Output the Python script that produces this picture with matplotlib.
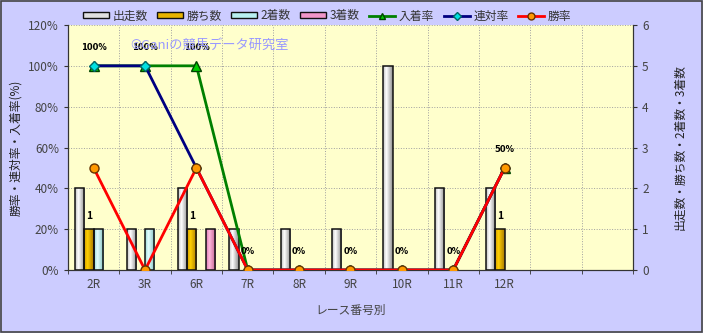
import matplotlib
matplotlib.use("Agg")
import matplotlib.pyplot as plt
import numpy as np
from matplotlib.patches import Rectangle
from matplotlib.lines import Line2D
from matplotlib.colors import LinearSegmentedColormap

plt.rcParams['font.family'] = ['Noto Sans CJK JP', 'DejaVu Sans']

categories = ['2R', '3R', '6R', '7R', '8R', '9R', '10R', '11R', '12R', '', '']
starts = [2, 1, 2, 1, 1, 1, 5, 2, 2]
wins = [1, 0, 1, 0, 0, 0, 0, 0, 1]
seconds = [1, 1, 0, 0, 0, 0, 0, 0, 0]
thirds = [0, 0, 1, 0, 0, 0, 0, 0, 0]
place_rate = [100, 100, 100, 0, 0, 0, 0, 0, 50]
quinella_rate = [100, 100, 50, 0, 0, 0, 0, 0, 50]
win_rate = [50, 0, 50, 0, 0, 0, 0, 0, 50]

fig = plt.figure(figsize=(7.03, 3.33), dpi=100)
fig.patch.set_facecolor('#CCCCFF')
fig.add_artist(Rectangle((0.001, 0.002), 0.997, 0.995, transform=fig.transFigure,
                         fill=False, edgecolor='#444444', linewidth=1.2))

ax2 = fig.add_axes([68/703, 1-270/333, (633-68)/703, (270-25)/333])
ax = ax2.twinx()
ax.set_zorder(ax2.get_zorder() + 1)
ax.patch.set_visible(False)
ax2.set_facecolor('#FFFFCC')

n = len(categories)
x = np.arange(n)
nd = len(starts)
xd = np.arange(nd)
w = 0.18
bar_specs = [
    (starts, '#F2F2F2', ['#C0C0C0', '#FFFFFF', '#8C8C8C']),
    (wins, '#E8B400', ['#D09A00', '#FFD000', '#A87800']),
    (seconds, '#B8F0F0', ['#98D8D8', '#E4FFFF', '#80C0C0']),
    (thirds, '#F096C8', ['#E07AB4', '#FFB8DC', '#C0608E']),
]
grad = np.linspace(0, 1, 64).reshape(1, -1)
for i, (vals, col, gcols) in enumerate(bar_specs):
    cmap = LinearSegmentedColormap.from_list(f'g{i}', [(0, gcols[0]), (0.35, gcols[1]), (1, gcols[2])])
    bars = ax2.bar(xd + (i - 1.5) * w, vals, width=w, color=col, edgecolor='none',
                   linewidth=0, zorder=3)
    for b in bars:
        if b.get_height() <= 0:
            continue
        bx, by = b.get_x(), b.get_y()
        im = ax2.imshow(grad, cmap=cmap, aspect='auto', zorder=3.5,
                        extent=(bx, bx + b.get_width(), by, by + b.get_height()))
        im.set_clip_path(b)
        edge = Rectangle((bx, by), b.get_width(), b.get_height(), fill=False,
                         edgecolor='#111111', linewidth=1.1, zorder=3.6)
        ax2.add_patch(edge)
for xi, v in zip(xd, wins):
    if v > 0:
        ax2.text(xi - 0.5 * w, v + 0.2, str(v), ha='center', va='bottom',
                 fontsize=7.5, fontweight='bold', zorder=4)

ax2.set_xlim(-0.5, n - 0.5)
ax2.set_ylim(0, 6)
ax2.set_yticks(range(0, 7))
ax2.set_xticks(x)
ax2.set_xticklabels(categories)
ax2.set_xticks(np.arange(-0.5, n, 1.0), minor=True)
ax2.tick_params(axis='x', which='major', length=0, pad=6, labelsize=8.5, labelcolor='#444444')
ax2.tick_params(axis='x', which='minor', length=3, direction='out', color='#333333')
ax2.grid(axis='y', which='major', linestyle=':', color='#A0A0A0', linewidth=0.7, zorder=0)
ax2.grid(axis='x', which='minor', linestyle=':', color='#A0A0A0', linewidth=0.7, zorder=0)
ax2.set_axisbelow(True)

ax2.yaxis.tick_right()
ax2.yaxis.set_label_position('right')
ax.yaxis.tick_left()
ax.yaxis.set_label_position('left')

ax.plot(xd, place_rate, color='#008000', linewidth=2, marker='^', markersize=6.5,
        markerfacecolor='#00CC00', markeredgecolor='#004400', zorder=5)
ax.plot(xd, quinella_rate, color='#000080', linewidth=2, marker='D', markersize=5,
        markerfacecolor='#00E0E0', markeredgecolor='#006666', zorder=6)
ax.plot(xd, win_rate, color='#FF0000', linewidth=2, marker='o', markersize=6.5,
        markerfacecolor='#FF9900', markeredgecolor='#663300', zorder=7)
for xi, v in zip(xd, place_rate):
    ax.text(xi, v + 7, f'{v}%', ha='center', va='bottom', fontsize=6,
            fontweight='bold', family='DejaVu Sans', zorder=8)
ax.set_ylim(0, 120)
ax.set_xlim(-0.5, n - 0.5)
ax.set_yticks(range(0, 121, 20))
ax.set_yticklabels([f'{v}%' for v in range(0, 121, 20)])

for a in (ax, ax2):
    for s in a.spines.values():
        s.set_color('#333333')
    a.spines['top'].set_visible(False)
ax.tick_params(axis='y', length=3, labelsize=8.5, labelcolor='#444444', color='#333333')
ax2.tick_params(axis='y', length=3, labelsize=8.5, labelcolor='#444444', color='#333333')

ax.set_ylabel('勝率・連対率・入着率(%)', fontsize=8.5, color='#222222', labelpad=4)
ax2.set_ylabel('出走数・勝ち数・2着数・3着数', fontsize=8.5, color='#222222',
               rotation=90, labelpad=18)
ax2.set_xlabel('レース番号別', fontsize=8.5, color='#444444', labelpad=9)

ax.text(0.251, 0.918, '©Ganiの競馬データ研究室', transform=ax2.transAxes,
        ha='center', va='center', fontsize=9.5, color='#9999FF', zorder=9)

handles = [
    Rectangle((0, 0), 1, 1, facecolor='#E0E0E0', edgecolor='#111111'),
    Rectangle((0, 0), 1, 1, facecolor='#E8B400', edgecolor='#111111'),
    Rectangle((0, 0), 1, 1, facecolor='#B8F0F0', edgecolor='#111111'),
    Rectangle((0, 0), 1, 1, facecolor='#F096C8', edgecolor='#111111'),
    Line2D([], [], color='#008000', linewidth=2, marker='^', markersize=5,
           markerfacecolor='#00CC00', markeredgecolor='#004400'),
    Line2D([], [], color='#000080', linewidth=2, marker='D', markersize=4,
           markerfacecolor='#00E0E0', markeredgecolor='#006666'),
    Line2D([], [], color='#FF0000', linewidth=2, marker='o', markersize=5,
           markerfacecolor='#FF9900', markeredgecolor='#663300'),
]
labels = ['出走数', '勝ち数', '2着数', '3着数', '入着率', '連対率', '勝率']
fig.legend(handles, labels, loc='center', bbox_to_anchor=(0.465, 1 - 16/333), ncol=7,
           frameon=False, fontsize=8.5, handlelength=2.2, handleheight=0.4,
           handletextpad=0.3, columnspacing=0.8, labelcolor='#333333')

fig.savefig('out.png', dpi=100, facecolor=fig.get_facecolor())
